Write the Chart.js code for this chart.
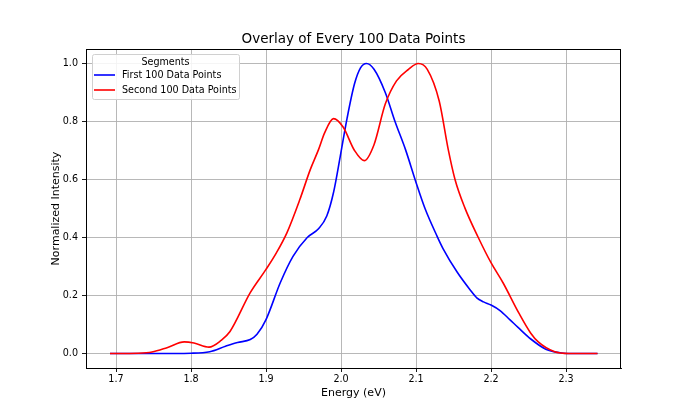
<!DOCTYPE html>
<html>
<head>
<meta charset="utf-8">
<script src="https://cdn.jsdelivr.net/npm/chart.js@4/dist/chart.umd.min.js"></script>
<style>
  body { margin: 0; background: #ffffff; }
  canvas { display: block; }
</style>
</head>
<body>
<canvas id="overlay" width="690" height="414"></canvas>
<script>
// values
const chartTitle = 'Overlay of Every 100 Data Points';
const legendTitle = 'Segments';
const seriesNames = ['First 100 Data Points', 'Second 100 Data Points'];

const energyFirst = [1.692, 1.75, 1.80, 1.825, 1.846, 1.862, 1.879, 1.888, 1.90, 1.919, 1.936, 1.955, 1.97, 1.981, 1.99, 1.999, 2.008, 2.018, 2.026, 2.034, 2.044, 2.059, 2.072, 2.086, 2.10, 2.112, 2.128, 2.136, 2.155, 2.172, 2.181, 2.19, 2.20, 2.212, 2.225, 2.236, 2.253, 2.273, 2.294, 2.31, 2.342];
const intensityFirst = [0, 0, 0.001, 0.006, 0.025, 0.038, 0.048, 0.066, 0.117, 0.244, 0.335, 0.40, 0.43, 0.474, 0.555, 0.68, 0.81, 0.93, 0.985, 1.0, 0.98, 0.9, 0.80, 0.703, 0.59, 0.50, 0.405, 0.362, 0.28, 0.22, 0.192, 0.178, 0.167, 0.148, 0.117, 0.09, 0.05, 0.015, 0.002, 0, 0];

const energySecond = [1.692, 1.73, 1.748, 1.768, 1.791, 1.804, 1.824, 1.84, 1.852, 1.879, 1.90, 1.914, 1.928, 1.945, 1.959, 1.97, 1.978, 1.99, 2.003, 2.018, 2.031, 2.044, 2.059, 2.074, 2.09, 2.103, 2.115, 2.131, 2.143, 2.152, 2.165, 2.183, 2.20, 2.216, 2.237, 2.253, 2.263, 2.284, 2.304, 2.342];
const intensitySecond = [0, 0.001, 0.005, 0.02, 0.04, 0.036, 0.022, 0.045, 0.076, 0.21, 0.29, 0.348, 0.417, 0.53, 0.634, 0.703, 0.76, 0.81, 0.78, 0.70, 0.665, 0.72, 0.86, 0.94, 0.98, 1.0, 0.98, 0.87, 0.703, 0.60, 0.503, 0.40, 0.313, 0.244, 0.14, 0.07, 0.04, 0.007, 0, 0];

const energyTicks = [1.7, 1.8, 1.9, 2.0, 2.1, 2.2, 2.3];
const intensityTicks = [0.0, 0.2, 0.4, 0.6, 0.8, 1.0];

const ctx = document.getElementById('overlay').getContext('2d');
const fontFamily = '"DejaVu Sans", sans-serif';

function toPoints(xs, ys) {
    return xs.map((x, i) => ({ x: x, y: ys[i] }));
}

// frame, title and legend drawn like matplotlib does
const matplotlibLook = {
    id: 'matplotlibLook',
    afterDraw(chart) {
        const c = chart.ctx;
        const a = chart.chartArea;
        c.save();
        c.strokeStyle = '#000000';
        c.lineWidth = 1;
        c.strokeRect(Math.round(a.left) + 0.5, Math.round(a.top) + 0.5, Math.round(a.right - a.left) - 1, Math.round(a.bottom - a.top));

        c.fillStyle = '#000000';
        c.font = '13.5px ' + fontFamily;
        c.textAlign = 'center';
        c.textBaseline = 'middle';
        c.fillText(chartTitle, (a.left + a.right) / 2, 39);

        // legend box in the upper left corner
        const bx = a.left + 6, by = a.top + 5, bw = 147, bh = 45;
        c.fillStyle = 'rgba(255,255,255,0.85)';
        c.strokeStyle = '#d0d0d0';
        c.beginPath();
        c.roundRect(bx + 0.5, by + 0.5, bw, bh, 2);
        c.fill();
        c.stroke();
        c.fillStyle = '#000000';
        c.font = '9.6px ' + fontFamily;
        c.fillText(legendTitle, bx + bw / 2, by + 8);
        c.textAlign = 'left';
        chart.data.datasets.forEach((ds, i) => {
            const y = by + 21 + i * 15;
            c.strokeStyle = ds.borderColor;
            c.lineWidth = 1.6;
            c.beginPath();
            c.moveTo(bx + 2, y);
            c.lineTo(bx + 23, y);
            c.stroke();
            c.fillText(ds.label, bx + 30, y);
        });
        c.restore();
    }
};

new Chart(ctx, {
    type: 'line',
    data: {
        datasets: [{
            label: seriesNames[0],
            data: toPoints(energyFirst, intensityFirst),
            borderColor: '#0000ff',
            borderWidth: 1.6,
            pointRadius: 0,
            cubicInterpolationMode: 'monotone',
            order: 1
        }, {
            label: seriesNames[1],
            data: toPoints(energySecond, intensitySecond),
            borderColor: '#ff0000',
            borderWidth: 1.6,
            pointRadius: 0,
            cubicInterpolationMode: 'monotone',
            order: 0
        }]
    },
    options: {
        responsive: false,
        animation: false,
        layout: {
            padding: { left: 0, right: 69, top: 49, bottom: 0 }
        },
        plugins: {
            legend: { display: false },
            tooltip: { enabled: false }
        },
        scales: {
            x: {
                type: 'linear',
                min: 1.66,
                max: 2.3733,
                afterBuildTicks: (scale) => { scale.ticks = energyTicks.map((v) => ({ value: v })); },
                afterFit: (scale) => { scale.height = 46; },
                grid: { color: '#b0b0b0', lineWidth: 0.9, tickColor: '#000000', tickLength: 4 },
                border: { display: true, color: '#000000', width: 1 },
                ticks: {
                    autoSkip: false,
                    maxRotation: 0,
                    padding: 2,
                    color: '#000000',
                    font: { family: fontFamily, size: 9.6 },
                    callback: (v) => Number(v).toFixed(1)
                },
                title: {
                    display: true,
                    text: 'Energy (eV)',
                    color: '#000000',
                    font: { family: fontFamily, size: 11 },
                    padding: { top: 0, bottom: 14 }
                }
            },
            y: {
                type: 'linear',
                min: -0.05,
                max: 1.05,
                afterBuildTicks: (scale) => { scale.ticks = intensityTicks.map((v) => ({ value: v })); },
                afterFit: (scale) => { scale.width = 86; },
                grid: { color: '#b0b0b0', lineWidth: 0.9, tickColor: '#000000', tickLength: 4 },
                border: { display: true, color: '#000000', width: 1 },
                ticks: {
                    autoSkip: false,
                    padding: 4,
                    color: '#000000',
                    font: { family: fontFamily, size: 9.6 },
                    callback: (v) => Number(v).toFixed(1)
                },
                title: {
                    display: true,
                    text: 'Normalized Intensity',
                    color: '#000000',
                    font: { family: fontFamily, size: 11 },
                    padding: { top: 50, bottom: 0 }
                }
            }
        }
    },
    plugins: [matplotlibLook]
});
</script>
</body>
</html>
